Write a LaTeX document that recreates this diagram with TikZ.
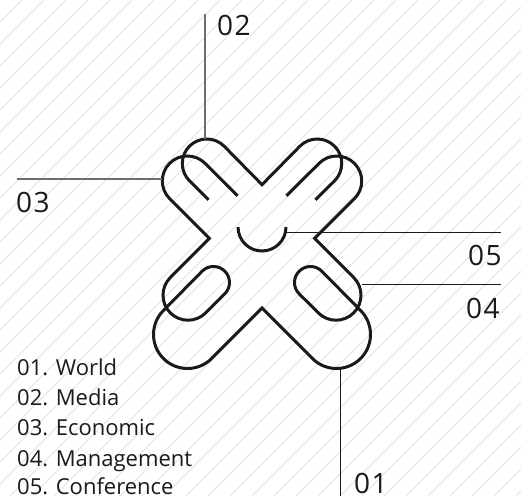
\documentclass[tikz,border=0pt]{standalone}
\usepackage{fontspec}
\setmainfont{Open Sans}
\newfontfamily\tagfont{Open Sans}[LetterSpace=5]
\usetikzlibrary{positioning}
\definecolor{inkblack}{RGB}{26,26,26}
\definecolor{leadgray}{RGB}{110,110,110}
\definecolor{hatchgray}{RGB}{234,234,234}

\begin{document}
\begin{tikzpicture}[
    x=1pt, y=1pt,
    outline/.style={draw=inkblack, line width=3pt, line join=miter},
    leader/.style={draw=inkblack, line width=1pt},
    leaderlight/.style={draw=leadgray, line width=1.2pt},
    tag/.style={inner sep=0pt, anchor=base west, font=\tagfont\fontsize{28}{28}\selectfont, text=inkblack},
    item/.style={inner sep=0pt, anchor=base west, font=\fontsize{22}{26}\selectfont, text=inkblack}
]
    \useasboundingbox (0,0) rectangle (521,496);
    \fill[white] (0,0) rectangle (521,496);

    % Hatching
    \begin{scope}
        \clip (0,0) rectangle (521,496);
        \foreach \s in {-496,-474,...,540} {
            \draw[hatchgray, line width=1.2pt] (\s,0) -- ++(496,496);
        }
    \end{scope}

    % Back loops
    \draw[outline] (208.5,296.2) -- (189.48,315.18) arc[start angle=225, end angle=45, radius=24.5]
        -- (262,311.3) -- (299.9,349.82) arc[start angle=135, end angle=-45, radius=24.5] -- (315.5,296.2);

    % Front outline
    \draw[outline] (237.5,300.2) -- (205,332.7) arc[start angle=45, end angle=225, radius=25]
        -- (209.37,257.53) -- (170.32,218.48) arc[start angle=135, end angle=315, radius=25]
        -- (224.8,202.2) arc[start angle=-45, end angle=135, radius=16]
        -- (163.46,185.54) arc[start angle=135, end angle=315, radius=34]
        -- (262,188) -- (312.46,137.46) arc[start angle=225, end angle=405, radius=34]
        -- (321.8,224.8) arc[start angle=45, end angle=225, radius=16]
        -- (318.32,183.12) arc[start angle=225, end angle=405, radius=25]
        -- (314.63,257.53) -- (354.4,297.3) arc[start angle=-45, end angle=135, radius=25]
        -- (286.5,300.2);

    % Smile
    \draw[outline] (238,269) arc[start angle=180, end angle=360, radius=24];

    % Leader ends
    \coordinate (top02) at (205,482);
    \coordinate (loop02) at (205,357);
    \coordinate (left03) at (17,317);
    \coordinate (loop03) at (162,317);
    \coordinate (smile05) at (286,264);
    \coordinate (right05) at (501,264);
    \coordinate (loop04) at (362,212);
    \coordinate (right04) at (501,212);
    \coordinate (loop01) at (340.5,127);
    \coordinate (bottom01) at (340.5,0);

    % Leaders
    \draw[leaderlight] (top02) -- (loop02);
    \draw[leaderlight] (left03) -- (loop03);
    \draw[leader] (smile05) -- (right05);
    \draw[leader] (loop04) -- (right04);
    \draw[leader] (loop01) -- (bottom01);

    % Labels
    \node[tag] (tag02) at (217,460) {02};
    \node[tag] (tag03) at (16,284) {03};
    \node[tag] (tag05) at (468,231) {05};
    \node[tag] (tag04) at (466,178) {04};
    \node[tag] (tag01) at (354,3) {01};

    % List
    \node[item] (world) at (17,121) {01. World};
    \node[item] (media) at (17,91) {02. Media};
    \node[item] (economic) at (17,60.3) {03. Economic};
    \node[item] (management) at (17,30) {04. Management};
    \node[item] (conference) at (17,1.5) {05. Conference};
\end{tikzpicture}
\end{document}
